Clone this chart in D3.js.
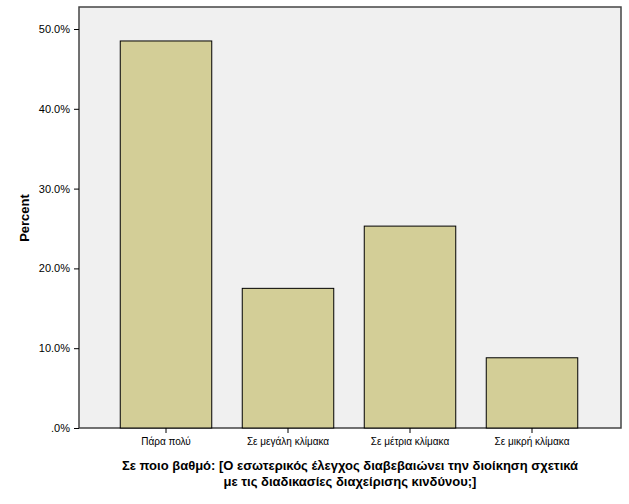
<!DOCTYPE html>
<html><head><meta charset="utf-8">
<script src="https://cdn.jsdelivr.net/npm/d3@7"></script>
<style>body{margin:0;background:#fff}</style></head>
<body><svg id="chart" width="629" height="504"></svg>
<script>
const categories = ["Πάρα πολύ", "Σε μεγάλη κλίμακα", "Σε μέτρια κλίμακα", "Σε μικρή κλίμακα"];
const percents = [48.5, 17.5, 25.3, 8.8];
const yTicks = [0, 10, 20, 30, 40, 50];

const svg = d3.select("#chart").attr("font-family", "Arial, 'Liberation Sans', sans-serif");
const plotLeft = 79, plotRight = 621, plotTop = 7, plotBottom = 428;

svg.append("rect").attr("x", plotLeft).attr("y", plotTop).attr("width", plotRight - plotLeft).attr("height", plotBottom - plotTop)
    .attr("fill", "#f0f0f0").attr("stroke", "#444").attr("stroke-width", 1.5);

const y = d3.scaleLinear().domain([0, 50]).range([plotBottom, 29]);
const x = d3.scaleBand().domain(categories).range([105, 593]).paddingInner(0.25).paddingOuter(0.125);

svg.selectAll(".bar").data(percents).enter().append("rect")
    .attr("x", (d, i) => x(categories[i]))
    .attr("y", d => y(d))
    .attr("width", x.bandwidth())
    .attr("height", d => plotBottom - y(d))
    .attr("fill", "#d3ce97").attr("stroke", "#000").attr("stroke-width", 1);

const yAxis = svg.append("g").attr("transform", "translate(" + plotLeft + ",0)")
    .call(d3.axisLeft(y).tickValues(yTicks).tickSize(5).tickFormat(d => d === 0 ? ".0%" : d.toFixed(1) + "%"));
yAxis.select(".domain").remove();
yAxis.selectAll("text").attr("font-size", 11).attr("fill", "#000").attr("dx", -1);

const xAxis = svg.append("g").attr("transform", "translate(0," + plotBottom + ")")
    .call(d3.axisBottom(x).tickSize(5));
xAxis.select(".domain").remove();
xAxis.selectAll("text").attr("font-size", 10).attr("fill", "#000").attr("dy", "0.9em");

svg.append("text").attr("transform", "translate(29,218) rotate(-90)").attr("text-anchor", "middle")
    .attr("font-size", 13).attr("font-weight", "bold").text("Percent");

svg.append("text").attr("x", 350).attr("y", 470).attr("text-anchor", "middle")
    .attr("font-size", 13).attr("font-weight", "bold")
    .text("Σε ποιο βαθμό:  [Ο εσωτερικός έλεγχος διαβεβαιώνει την διοίκηση σχετικά");
svg.append("text").attr("x", 350).attr("y", 486).attr("text-anchor", "middle")
    .attr("font-size", 13).attr("font-weight", "bold")
    .text("με τις διαδικασίες διαχείρισης κινδύνου;]");
</script></body></html>
